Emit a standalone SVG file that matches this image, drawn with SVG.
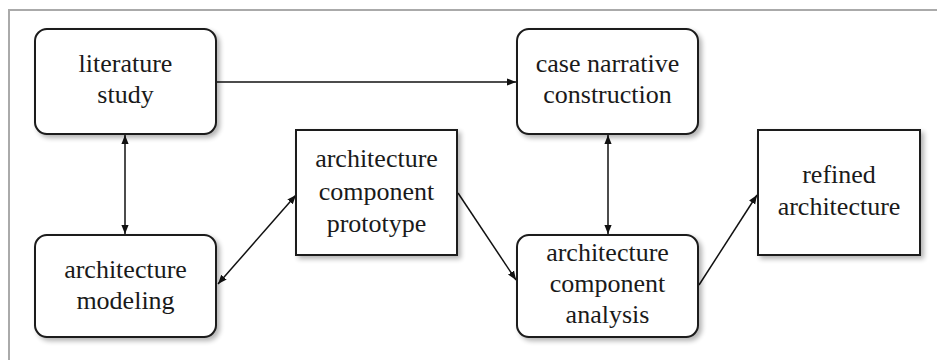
<svg xmlns="http://www.w3.org/2000/svg" width="937" height="360" viewBox="0 0 937 360">
<style>
.box{fill:#fff;stroke:#1a1a1a;stroke-width:2;filter:url(#sh)}
.t{font-family:"Liberation Serif","Times New Roman",serif;font-size:26px;fill:#1a1a1a;text-anchor:middle}
.c{stroke:#111;stroke-width:1.5;fill:none}
</style>
<defs>
<filter id="sh" x="-10%" y="-10%" width="130%" height="130%">
<feGaussianBlur in="SourceAlpha" stdDeviation="2.5"/>
<feOffset dx="3" dy="3" result="b"/>
<feComponentTransfer><feFuncA type="linear" slope="0.3"/></feComponentTransfer>
<feMerge><feMergeNode/><feMergeNode in="SourceGraphic"/></feMerge>
</filter>
<marker id="ah" viewBox="0 0 10 10" refX="10" refY="5" markerWidth="9" markerHeight="9" markerUnits="userSpaceOnUse" orient="auto-start-reverse">
<path d="M0,1 L10,5 L0,9 Z" fill="#111"/>
</marker>
</defs>
<rect width="937" height="360" fill="#fff"/>
<path d="M9,360 V10 H937" fill="none" stroke="#aaa" stroke-width="2"/>

<g id="connectors">
<line class="c" x1="216" y1="82" x2="516" y2="82" marker-end="url(#ah)"/>
<line class="c" x1="125" y1="135" x2="125" y2="234" marker-start="url(#ah)" marker-end="url(#ah)"/>
<line class="c" x1="608" y1="135" x2="608" y2="234" marker-start="url(#ah)" marker-end="url(#ah)"/>
<line class="c" x1="218" y1="284" x2="296" y2="195" marker-start="url(#ah)" marker-end="url(#ah)"/>
<line class="c" x1="458" y1="193" x2="516" y2="280" marker-end="url(#ah)"/>
<line class="c" x1="699" y1="285" x2="757" y2="195" marker-end="url(#ah)"/>
</g>

<g id="literature-study">
<rect class="box" x="35" y="29" width="181" height="105" rx="12"/>
<text class="t" x="125.5" y="72">literature</text>
<text class="t" x="125.5" y="103">study</text>
</g>

<g id="case-narrative">
<rect class="box" x="517" y="29" width="181" height="105" rx="12"/>
<text class="t" x="607.5" y="72">case narrative</text>
<text class="t" x="607.5" y="103">construction</text>
</g>

<g id="architecture-modeling">
<rect class="box" x="35" y="235" width="181" height="102" rx="12"/>
<text class="t" x="125.5" y="278">architecture</text>
<text class="t" x="125.5" y="309">modeling</text>
</g>

<g id="prototype">
<rect class="box" x="296" y="130" width="161" height="125"/>
<text class="t" x="376.5" y="167">architecture</text>
<text class="t" x="376.5" y="200">component</text>
<text class="t" x="376.5" y="232">prototype</text>
</g>

<g id="analysis">
<rect class="box" x="517" y="235" width="181" height="102" rx="12"/>
<text class="t" x="607.5" y="261">architecture</text>
<text class="t" x="607.5" y="292">component</text>
<text class="t" x="607.5" y="323">analysis</text>
</g>

<g id="refined-architecture">
<rect class="box" x="758" y="130" width="162" height="125"/>
<text class="t" x="839" y="183">refined</text>
<text class="t" x="839" y="215">architecture</text>
</g>
</svg>
